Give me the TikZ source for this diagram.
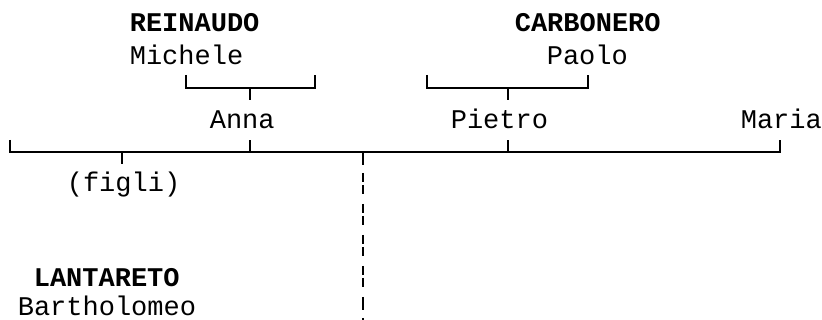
\documentclass[tikz,border=0pt]{standalone}
\usepackage{fontspec}
\setmonofont{Liberation Mono}
\begin{document}
\begin{tikzpicture}[x=1pt,y=-1pt,line width=1.6pt,
  person/.style={font=\ttfamily\fontsize{27}{27}\selectfont,inner sep=0pt,anchor=base west},
  family/.style={person,font=\ttfamily\bfseries\fontsize{27}{27}\selectfont}]
\useasboundingbox (0,0) rectangle (822,320);
\node[family] (rein) at (129,32) {REINAUDO};
\node[person] (mich) at (129,65) {Michele};
\node[family] (carb) at (514,32) {CARBONERO};
\node[person] (paol) at (546,65) {Paolo};
\node[person] (anna) at (209,129) {Anna};
\node[person] (piet) at (450,129) {Pietro};
\node[person] (mari) at (740,129) {Maria};
\node[person] (figl) at (66,192) {(figli)};
\node[family] (lant) at (33,287) {LANTARETO};
\node[person] (bart) at (17,316) {Bartholomeo};
% parents of Anna
\coordinate (a1) at (186,75); \coordinate (a2) at (315,75);
\coordinate (am) at (250,88); \coordinate (at) at (250,100);
\draw (a1) |- (am) -| (a2);
\draw (am) -- (at);
% parents of Pietro
\coordinate (p1) at (427,75); \coordinate (p2) at (588,75);
\coordinate (pm) at (508,88); \coordinate (pt) at (508,100);
\draw (p1) |- (pm) -| (p2);
\draw (pm) -- (pt);
% children
\coordinate (m1) at (10,140); \coordinate (m2) at (780,140);
\coordinate (ma) at (250,152); \coordinate (mp) at (508,152);
\coordinate (mf) at (122,152); \coordinate (mfb) at (122,164);
\coordinate (md) at (363,152); \coordinate (mdb) at (363,320);
\draw (m1) |- (ma) -| (m2);
\draw (ma) -- ++(0,-12);
\draw (mp) -- ++(0,-12);
\draw (mf) -- (mfb);
\draw[dash pattern=on 13pt off 8pt on 9pt off 3pt on 9pt off 10pt on 9pt off 3pt on 9pt off 10pt on 9pt off 3pt on 9pt off 10pt on 9pt off 3pt on 9pt off 10pt] (md) -- (mdb);
\end{tikzpicture}
\end{document}
